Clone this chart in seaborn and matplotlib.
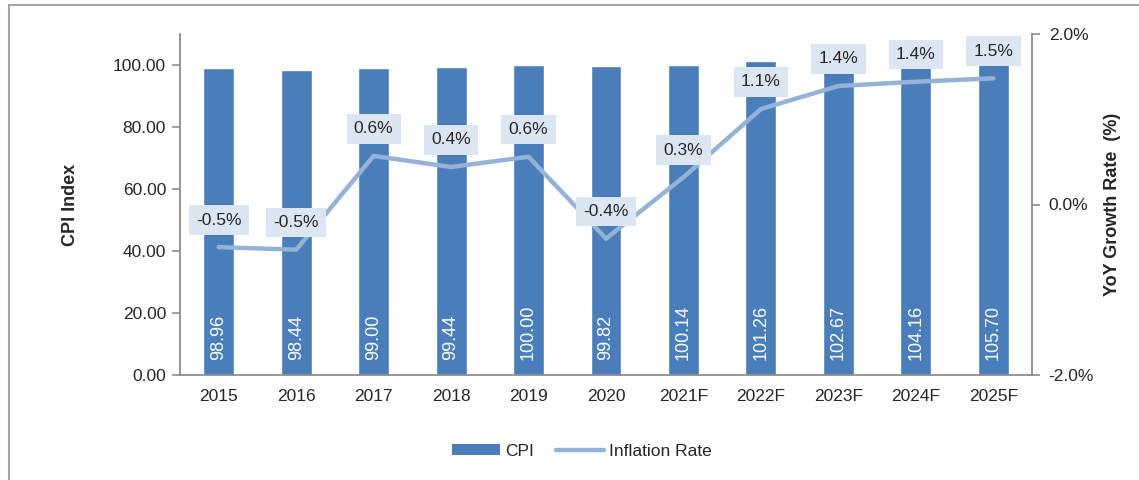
import matplotlib
matplotlib.use("Agg")
import matplotlib.pyplot as plt
from matplotlib.lines import Line2D
from matplotlib.patches import Patch
import seaborn as sns
import numpy as np
import pandas as pd

years = ["2015", "2016", "2017", "2018", "2019", "2020",
         "2021F", "2022F", "2023F", "2024F", "2025F"]
cpi = [98.96, 98.44, 99.00, 99.44, 100.00, 99.82,
       100.14, 101.26, 102.67, 104.16, 105.70]
inflation = [-0.50, -0.53, 0.57, 0.44, 0.56, -0.40,
             0.32, 1.12, 1.39, 1.44, 1.48]

bar_color = "#4a7ebb"
line_color = "#95b3d7"
box_color = "#dce6f2"
axis_color = "#8c8c8c"
text_color = "#262626"
fs = 12.5

sns.set_style("white")
plt.rcParams["font.family"] = ["Liberation Sans", "DejaVu Sans"]

df = pd.DataFrame({"year": years, "cpi": cpi, "inflation": inflation})
df["pos"] = np.arange(len(df))

fig = plt.figure(figsize=(11.39, 4.8), dpi=100)
ax = fig.add_axes([180 / 1139, 1 - 375 / 480, 852 / 1139, 341 / 480])

# bars
sns.barplot(data=df, x="year", y="cpi", color=bar_color, saturation=1,
            width=0.4, ax=ax)
ax.set_xlim(-0.5, len(years) - 0.5)
ax.set_ylim(0, 110)
ax.set_yticks(np.arange(0, 101, 20))
ax.set_yticklabels([f"{v:.2f}" for v in np.arange(0, 101, 20)])

# bar value labels (white, vertical, at bottom of bar)
for i, v in enumerate(cpi):
    ax.text(i, 4.8, f"{v:.2f}", rotation=90, ha="center", va="bottom",
            color="white", fontsize=13)

# category boundaries as ticks, labels in between
ax.set_xticks(np.arange(-0.5, len(years)), minor=False)
ax.set_xticklabels([])
ax.set_xticks(np.arange(len(years)), minor=True)
ax.set_xticklabels(years, minor=True)
ax.tick_params(axis="x", which="major", length=6, width=1.2, color=axis_color, direction="out")
ax.tick_params(axis="x", which="minor", length=0, pad=10, labelsize=fs, labelcolor=text_color)
ax.tick_params(axis="y", length=6, width=1.2, color=axis_color, direction="out",
               labelsize=fs, labelcolor=text_color, pad=4)

for s in ["top", "right"]:
    ax.spines[s].set_visible(False)
for s in ["left", "bottom"]:
    ax.spines[s].set_color(axis_color)
    ax.spines[s].set_linewidth(1.3)

ax.set_xlabel("")
ax.set_ylabel("CPI Index", fontsize=13, fontweight="bold", color=text_color)
ax.yaxis.set_label_coords(-(180 - 79) / 852, 0.5)

# inflation line on secondary axis
ax2 = ax.twinx()
sns.lineplot(data=df, x="pos", y="inflation", color=line_color, linewidth=3.2,
             ax=ax2, solid_capstyle="round", solid_joinstyle="round")
ax2.set_xlim(-0.5, len(years) - 0.5)
ax2.set_ylim(-2, 2)
ax2.set_yticks([-2, 0, 2])
ax2.set_yticklabels(["-2.0%", "0.0%", "2.0%"])
ax2.tick_params(axis="y", length=6, width=1.2, color=axis_color, direction="out",
                labelsize=fs, labelcolor=text_color, pad=6)
for s in ["top", "left", "bottom"]:
    ax2.spines[s].set_visible(False)
ax2.spines["right"].set_color(axis_color)
ax2.spines["right"].set_linewidth(1.3)
ax2.set_xlabel("")
ax2.set_ylabel("YoY Growth Rate  (%)", fontsize=13, fontweight="bold",
               color=text_color, rotation=90)
ax2.yaxis.set_label_coords(1 + (1104 - 1032) / 852, 0.5)

for i, v in enumerate(inflation):
    ax2.annotate(f"{v:.1f}%", (i, v), xytext=(0, 19.5), textcoords="offset points",
                 ha="center", va="center", fontsize=fs, color=text_color,
                 bbox=dict(boxstyle="square,pad=0.42", fc=box_color, ec="none"))

# legend
handles = [Patch(facecolor=bar_color, edgecolor="none", label="CPI"),
           Line2D([0], [0], color=line_color, lw=3.2, solid_capstyle="round",
                  label="Inflation Rate")]
fig.legend(handles=handles, loc="center", bbox_to_anchor=(582 / 1139, 1 - 451 / 480),
           ncol=2, frameon=False, fontsize=fs, handlelength=2.75, handleheight=0.55,
           handletextpad=0.3, columnspacing=1.3, labelcolor=text_color)

# outer frame
fig.add_artist(Line2D([9 / 1139, 1.0], [1 - 5 / 480, 1 - 5 / 480],
                      transform=fig.transFigure, color="#a6a6a6", lw=1.5))
fig.add_artist(Line2D([9 / 1139, 9 / 1139], [0.0, 1 - 5 / 480],
                      transform=fig.transFigure, color="#a6a6a6", lw=1.5))

fig.savefig("out.png", dpi=100)
